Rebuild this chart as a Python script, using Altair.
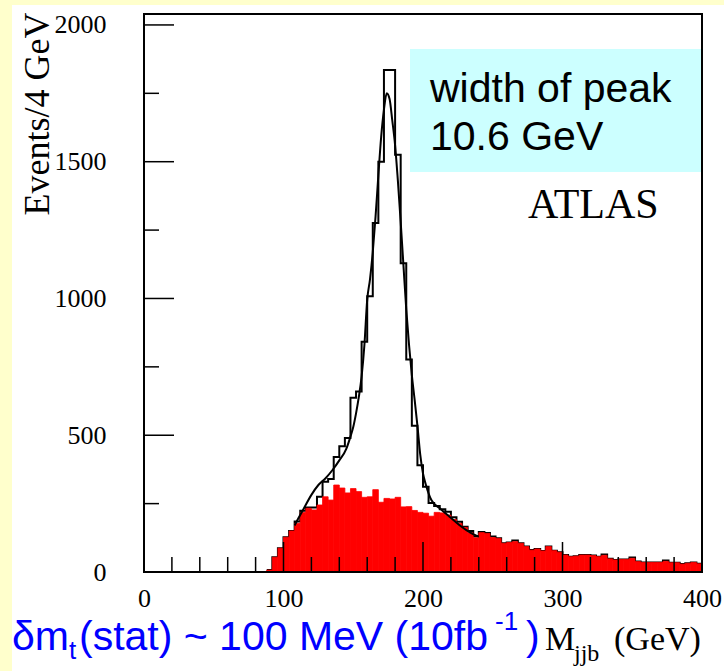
import altair as alt
import pandas as pd

# ---------------- data ----------------
bin_lo = list(range(88, 400, 4))  # 4 GeV bins, lower edges

background = [7, 54, 87, 127, 150, 178, 218, 233, 227, 245,
              275, 263, 318, 307, 289, 305, 294, 273, 275, 301,
              255, 269, 267, 273, 238, 239, 225, 218, 215, 204,
              218, 216, 208, 192, 178, 163, 143, 125, 144, 141,
              126, 123, 105, 108, 111, 105, 93, 80, 84, 77,
              93, 78, 72, 62, 56, 58, 62, 62, 60, 56,
              61, 48, 44, 46, 46, 50, 38, 35, 35, 35,
              35, 39, 34, 34, 29, 32, 35, 30]

total = [7, 54, 87, 127, 150, 185, 224, 236, 236, 275,
         330, 340, 420, 460, 490, 637, 660, 842, 1008, 1276,
         1500, 1835, 1835, 1525, 1129, 777, 535, 390, 312, 252,
         241, 229, 220, 200, 184, 165, 150, 130, 146, 143,
         130, 123, 105, 108, 115, 105, 93, 80, 84, 77,
         93, 78, 72, 62, 56, 58, 62, 62, 60, 56,
         64, 48, 44, 46, 46, 53, 38, 35, 35, 35,
         35, 42, 34, 34, 29, 32, 35, 30]

fit_x = [108, 110, 114, 120, 125, 130, 135, 140, 145, 148, 150, 152, 154, 156,
         158, 160, 162, 164, 166, 168, 170, 172, 174, 176, 178, 180, 182, 184,
         186, 188, 190, 192, 194, 196, 198, 200, 202, 206, 212, 219, 226, 233, 240]
fit_y = [170, 190, 227, 282, 318, 342, 372, 408, 450, 495, 530, 580, 640, 715,
         830, 995, 1070, 1170, 1300, 1450, 1590, 1690, 1750, 1730, 1650, 1560, 1430, 1280,
         1120, 960, 830, 720, 630, 535, 430, 360, 320, 263, 233, 202, 172, 147, 129]

x_ticks_minor = [20, 40, 60, 80, 120, 140, 160, 180, 220, 240, 260, 280, 320, 340, 360, 380]
x_ticks_major = [100, 200, 300]
y_ticks_minor = [250, 750, 1250, 1750]
y_ticks_major = [500, 1000, 1500, 2000]
x_labels = [0, 100, 200, 300, 400]
y_labels = [0, 500, 1000, 1500, 2000]

# ---------------- tables ----------------
W, H = 558, 558
bins = pd.DataFrame({"lo": bin_lo, "hi": [b + 4 for b in bin_lo], "bkg": background})
tot = pd.DataFrame({"x": bin_lo + [400], "y": total + [total[-1]]})
fit = pd.DataFrame({"x": fit_x, "y": fit_y})
one = pd.DataFrame({"a": [0]})

xs = alt.Scale(domain=[0, 400], nice=False, zero=False)
ys = alt.Scale(domain=[0, 2040], nice=False)

SERIF = "Liberation Serif"
SANS = "Liberation Sans"

xaxis = alt.Axis(values=x_labels, format="d", tickSize=0, domain=False, grid=False, labelFont=SERIF,
                 labelFontSize=26, labelColor="black", labelPadding=13, labelFlush=False,
                 labelOverlap=False, title=None, zindex=1)
yaxis = alt.Axis(values=y_labels, format="d", tickSize=0, domain=False, grid=False, labelFont=SERIF,
                 labelFontSize=26, labelColor="black", labelPadding=38,
                 labelOverlap=False, title=None, zindex=1)

# white page region (yellow margin left/top)
page = alt.Chart(one).mark_rect(color="white").encode(
    x=alt.value(-132), x2=alt.value(580), y=alt.value(-9), y2=alt.value(657))

plot_bg = alt.Chart(one).mark_rect(color="white").encode(
    x=alt.value(0), x2=alt.value(W), y=alt.value(0), y2=alt.value(H))

box = alt.Chart(one).mark_rect(color="#CCFFFF").encode(
    x=alt.value(266), x2=alt.value(W), y=alt.value(35), y2=alt.value(158))

total_line = alt.Chart(tot).mark_line(color="black", strokeWidth=2, interpolate="step-after").encode(
    x=alt.X("x:Q", scale=xs, axis=xaxis),
    y=alt.Y("y:Q", scale=ys, axis=yaxis))

red = alt.Chart(bins).mark_rect(color="#FF0000", stroke="#FF0000", strokeWidth=0.8).encode(
    x=alt.X("lo:Q", scale=xs), x2="hi:Q",
    y=alt.Y("bkg:Q", scale=ys), y2=alt.datum(0))

fit_line = alt.Chart(fit).mark_line(color="black", strokeWidth=2, interpolate="monotone").encode(
    x=alt.X("x:Q", scale=xs), y=alt.Y("y:Q", scale=ys))

xt_min = alt.Chart(pd.DataFrame({"t": x_ticks_minor})).mark_rule(color="black", strokeWidth=1.5).encode(
    x=alt.X("t:Q", scale=xs), y=alt.value(H), y2=alt.value(H - 15))
xt_maj = alt.Chart(pd.DataFrame({"t": x_ticks_major})).mark_rule(color="black", strokeWidth=1.5).encode(
    x=alt.X("t:Q", scale=xs), y=alt.value(H), y2=alt.value(H - 30))
yt_min = alt.Chart(pd.DataFrame({"t": y_ticks_minor})).mark_rule(color="black", strokeWidth=1.5).encode(
    y=alt.Y("t:Q", scale=ys), x=alt.value(0), x2=alt.value(15))
yt_maj = alt.Chart(pd.DataFrame({"t": y_ticks_major})).mark_rule(color="black", strokeWidth=1.5).encode(
    y=alt.Y("t:Q", scale=ys), x=alt.value(0), x2=alt.value(30))

frame = alt.Chart(one).mark_rect(fill=None, stroke="black", strokeWidth=2).encode(
    x=alt.value(0), x2=alt.value(W), y=alt.value(0), y2=alt.value(H))


def txt(s, x, y, size, font, color="black", angle=0, align="left", baseline="alphabetic"):
    return alt.Chart(one).mark_text(text=s, font=font, fontSize=size, color=color, angle=angle,
                                    align=align, baseline=baseline).encode(
        x=alt.value(x), y=alt.value(y))


BLUE = "#0000FF"
texts = [
    txt("width of peak", 286, 88, 41, SANS),
    txt("10.6 GeV", 286, 136, 41, SANS),
    txt("ATLAS", 384, 204, 42, SERIF),
    txt("Events/4 GeV", -95, 100, 36, SERIF, angle=270, align="center"),
    txt("\u03b4m", -132, 636, 41, SANS, color=BLUE),
    txt("t", -75, 645, 26, SANS, color=BLUE),
    txt("(stat) ~ 100 MeV (10fb", -65, 636, 41, SANS, color=BLUE),
    txt("-1", 351, 616, 26, SANS, color=BLUE),
    txt(")", 382, 636, 41, SANS, color=BLUE),
    txt("M", 401, 636, 34, SERIF),
    txt("jjb", 430, 647, 24, SERIF),
    txt("(GeV)", 470, 636, 34, SERIF),
]

chart = alt.layer(
    page, plot_bg, box, total_line, red, fit_line, xt_min, xt_maj, yt_min, yt_maj, frame, *texts
).properties(
    width=W, height=H,
    autosize=alt.AutoSizeParams(type="none"),
    padding={"left": 144, "top": 14, "right": 22, "bottom": 99},
    background="#FFFFCC",
).configure_view(stroke=None, fill="white")

chart.save("out.html", embed_options={"renderer": "svg", "actions": False})
